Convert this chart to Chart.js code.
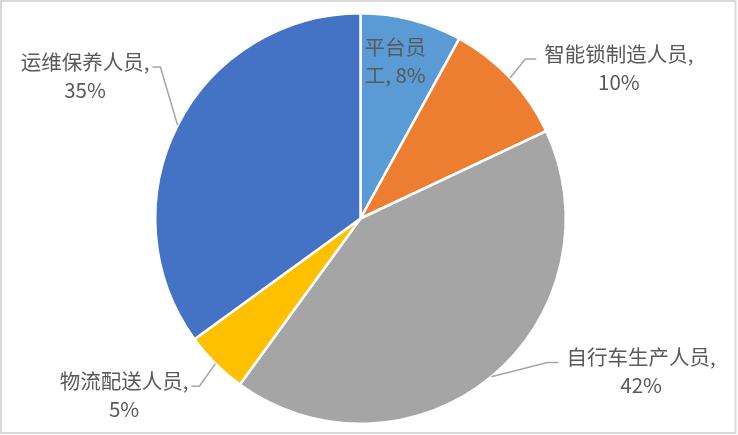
<!DOCTYPE html>
<html>
<head>
<meta charset="utf-8">
<script src="https://cdn.jsdelivr.net/npm/chart.js@4.4.1/dist/chart.umd.min.js"></script>
<style>
  html, body { margin: 0; padding: 0; background: #fff; }
  #wrap { width: 738px; height: 435px; }
</style>
</head>
<body>
<div id="wrap"><canvas id="staffPie" width="738" height="435"></canvas></div>
<script>
const categories = ['平台员工', '智能锁制造人员', '自行车生产人员', '物流配送人员', '运维保养人员'];
const shares = [8, 10, 42, 5, 35];
const sliceColors = ['#5B9BD5', '#ED7D31', '#A5A5A5', '#FFC000', '#4472C4'];

// label layout: first-line length (null = break after the comma),
// and label centre relative to the pie centre in radius units
const labelBreaks = [3, null, null, null, null];
const labelOffsets = [[0.169, -0.765], [1.259, -0.733], [1.367, 0.746], [-1.152, 0.861], [-1.342, -0.694]];

const FONT = '20.5px "Noto Sans CJK SC", "Noto Sans", sans-serif';

// data labels with leader lines, drawn the way the spreadsheet does it
const pieLabels = {
  id: 'pieLabels',
  afterDatasetsDraw(chart) {
    const { ctx } = chart;
    const arcs = chart.getDatasetMeta(0).data;
    ctx.save();
    ctx.font = FONT;
    ctx.textAlign = 'center';
    ctx.textBaseline = 'middle';
    arcs.forEach((arc, i) => {
      const { x, y, startAngle, endAngle, outerRadius } = arc.getProps(['x', 'y', 'startAngle', 'endAngle', 'outerRadius'], true);
      const r = outerRadius;
      const mid = (startAngle + endAngle) / 2;
      const lx = x + labelOffsets[i][0] * r;
      const ly = y + labelOffsets[i][1] * r;
      const full = `${categories[i]}, ${shares[i]}%`;
      const lines = labelBreaks[i] ? [full.slice(0, labelBreaks[i]), full.slice(labelBreaks[i])]
                                   : [categories[i] + ',', shares[i] + '%'];
      const lh = 28;
      const y1 = ly - lh / 2;

      const dist = Math.hypot(lx - x, ly - y);
      if (dist > r) {
        const ex = x + Math.cos(mid) * r;
        const ey = y + Math.sin(mid) * r;
        const w1 = ctx.measureText(lines[0]).width;
        const y0 = y1 + 5;
        let endX, elbowX;
        if (lx > x) { endX = lx - w1 / 2 - 8; elbowX = endX - 11; }
        else { endX = lx + w1 / 2 + 3; elbowX = endX + 8; }
        ctx.strokeStyle = '#a6a6a6';
        ctx.lineWidth = 1.5;
        ctx.beginPath();
        ctx.moveTo(ex, ey);
        ctx.lineTo(elbowX, y0);
        ctx.lineTo(endX, y0);
        ctx.stroke();
      }
      ctx.fillStyle = '#595959';
      lines.forEach((t, k) => ctx.fillText(t, lx, y1 + k * lh));
    });
    ctx.restore();
  },
  afterDraw(chart) {
    const { ctx } = chart;
    ctx.save();
    ctx.strokeStyle = '#d9d9d9';
    ctx.lineWidth = 2;
    ctx.strokeRect(1, 1, 734.5, 432);
    ctx.restore();
  }
};

new Chart(document.getElementById('staffPie'), {
  type: 'pie',
  data: {
    labels: categories,
    datasets: [{
      data: shares,
      backgroundColor: sliceColors,
      borderColor: '#ffffff',
      borderWidth: 2.5
    }]
  },
  options: {
    responsive: false,
    devicePixelRatio: 1,
    animation: false,
    layout: { padding: { top: 12, bottom: 10, left: 0, right: 17 } },
    plugins: {
      legend: { display: false },
      tooltip: { enabled: false }
    }
  },
  plugins: [pieLabels]
});
</script>
</body>
</html>
